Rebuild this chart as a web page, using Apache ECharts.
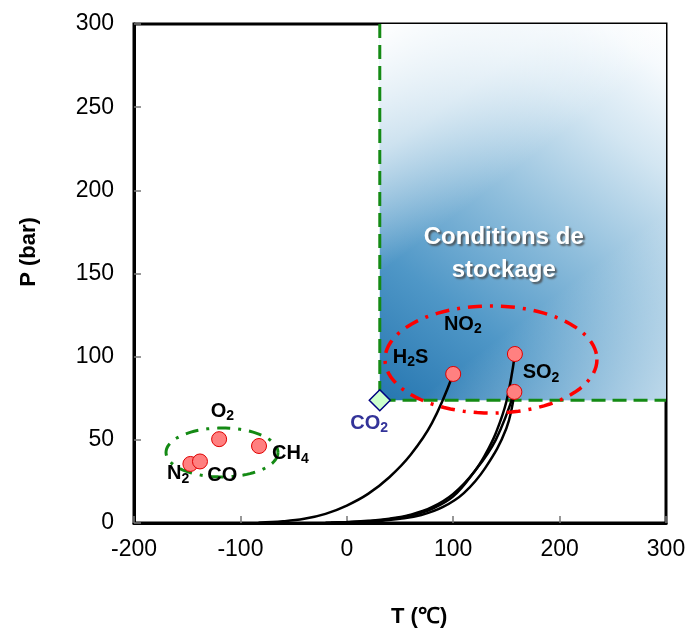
<!DOCTYPE html>
<html>
<head>
<meta charset="utf-8">
<script src="https://cdn.jsdelivr.net/npm/echarts@6/dist/echarts.min.js"></script>
<style>html,body{margin:0;padding:0;background:#fff;}#c{width:698px;height:632px;}</style>
</head>
<body>
<div id="c"></div>
<script>
// ---- data ----
const gasNames = ['N2', 'CO', 'O2', 'CH4', 'H2S', 'SO2', 'NO2'];
const gasT = [-147, -138, -120, -82.5, 100, 157.5, 158];
const gasP = [35.5, 37, 50.4, 46.3, 89.6, 78.8, 101.6];
const co2Point = [31, 73.8];

const h2sCurveT = [-83, -60, -40, -20, 0, 20, 40, 60, 80, 100];
const h2sCurveP = [0.2, 1, 2.5, 5.5, 10.5, 17.5, 27.5, 41, 60, 89.6];
const no2CurveT = [-15, 0, 20, 40, 60, 80, 100, 120, 130, 140, 150, 158];
const no2CurveP = [0.1, 0.4, 1, 2.3, 4.5, 8.5, 16, 31, 41, 54, 73, 101.6];
const so2CurveT = [-20, 0, 20, 40, 60, 80, 100, 120, 140, 157.5];
const so2CurveP = [0.1, 0.6, 1.3, 2.6, 5, 9.5, 17.5, 31, 50, 78.8];
const so2bCurveT = [-10, 10, 30, 50, 70, 90, 110, 130, 150, 157.5];
const so2bCurveP = [0.1, 0.5, 1.2, 2.5, 4.8, 9.5, 18, 33, 57, 78.8];

// storage region bounds [Tmin, Pmin, Tmax, Pmax]
const storageRegion = [31, 73.8, 300, 300];
// ellipses [centerT, centerP, radiusT, radiusP]
const greenEllipse = [-117.3, 42.4, 52.6, 14.7];
const redEllipse = [135.5, 98.3, 99.6, 32.2];

// text labels
const labelNames = ['NO2', 'H2S', 'SO2', 'CO2', 'O2', 'CH4', 'N2', 'CO'];
const labelT = [109, 60, 182.5, 21, -117, -53, -158.6, -117];
const labelP = [119, 99, 89.6, 59.5, 66.7, 41, 28.9, 27.7];
const labelColors = ['#000', '#000', '#000', '#333399', '#000', '#000', '#000', '#000'];

const xMin = -200, xMax = 300, xStep = 100;
const yMin = 0, yMax = 300, yStep = 50;

// ---- chart ----
const FONT = '"Liberation Sans", Arial, sans-serif';
const chart = echarts.init(document.getElementById('c'));

function zip(a, b) { return a.map((v, i) => [v, b[i]]); }
function curve(t, p) {
  return { type: 'line', data: zip(t, p), smooth: 0.4, symbol: 'none', z: 4,
    lineStyle: { color: '#000', width: 2.5 }, silent: true };
}
function ellipseSeries(e, color, dash, width) {
  return {
    type: 'custom', z: 5, silent: true, data: [e],
    renderItem: function (params, api) {
      const c = api.coord([api.value(0), api.value(1)]);
      const s = api.size([api.value(2), api.value(3)]);
      const pts = [];
      for (let i = 0; i <= 96; i++) {
        const a = i / 96 * Math.PI * 2;
        pts.push([c[0] + s[0] * Math.cos(a), c[1] + s[1] * Math.sin(a)]);
      }
      return { type: 'polyline', shape: { points: pts },
        style: { stroke: color, lineWidth: width, lineDash: dash, fill: null } };
    }
  };
}

function subLabel(n) {
  const head = n.replace(/\d.*$/, '');
  const digit = (n.match(/\d/) || [''])[0];
  const tail = digit ? n.slice(n.indexOf(digit) + 1) : '';
  let s = '{b|' + head + '}';
  if (digit) s += '{s|' + digit + '}';
  if (tail) s += '{b|' + tail + '}';
  return s;
}
function richFor(color) {
  return {
    b: { fontSize: 20, fontWeight: 'bold', fontFamily: FONT, color: color, lineHeight: 22, verticalAlign: 'top' },
    s: { fontSize: 14, fontWeight: 'bold', fontFamily: FONT, color: color, lineHeight: 22, verticalAlign: 'bottom', padding: [11, 0, 0, 0] }
  };
}

const labelData = labelNames.map((n, i) => ({
  value: [labelT[i], labelP[i]], name: n,
  label: { color: labelColors[i], rich: richFor(labelColors[i]) }
}));

const option = {
  animation: false,
  backgroundColor: '#fff',
  grid: { left: 134, top: 24, width: 532, height: 499, show: true,
    borderColor: '#000', borderWidth: 3, backgroundColor: 'transparent' },
  xAxis: {
    type: 'value', min: xMin, max: xMax, interval: xStep,
    axisLine: { show: true, onZero: false, lineStyle: { color: '#000', width: 3 } },
    axisTick: { show: true, inside: true, length: 7, lineStyle: { color: '#777', width: 1.5 } },
    axisLabel: { color: '#000', fontSize: 23, fontFamily: FONT, margin: 15 },
    splitLine: { show: false }
  },
  yAxis: {
    type: 'value', min: yMin, max: yMax, interval: yStep,
    axisLine: { show: true, onZero: false, lineStyle: { color: '#000', width: 3 } },
    axisTick: { show: true, inside: true, length: 7, lineStyle: { color: '#777', width: 1.5 } },
    axisLabel: { color: '#000', fontSize: 23, fontFamily: FONT, margin: 20 },
    splitLine: { show: false }
  },
  graphic: [
    { type: 'text', left: 391, top: 606, style: { text: 'T (℃)', fill: '#000',
      font: 'bold 22px ' + FONT } },
    { type: 'text', x: 29, y: 252, rotation: Math.PI / 2, style: { text: 'P (bar)', fill: '#000',
      font: 'bold 22px ' + FONT, align: 'center', verticalAlign: 'middle' } }
  ],
  series: [
    {
      type: 'custom', z: 1, silent: true, data: [storageRegion],
      renderItem: function (params, api) {
        const a = api.coord([api.value(0), api.value(3)]);
        const b = api.coord([api.value(2), api.value(1)]);
        const shape = { x: a[0], y: a[1], width: b[0] - a[0], height: b[1] - a[1] };
        return { type: 'group', children: [
          { type: 'rect', shape: shape,
            style: { fill: new echarts.graphic.LinearGradient(0, 1, 1, 0, [
              { offset: 0, color: '#2676b0' },
              { offset: 0.25, color: '#4f97c7' },
              { offset: 0.5, color: '#8fbedc' },
              { offset: 0.75, color: '#d3e6f2' },
              { offset: 0.92, color: '#f6fafd' },
              { offset: 1, color: '#ffffff' }
            ]) } },
          { type: 'rect', shape: shape,
            style: { fill: new echarts.graphic.LinearGradient(0, 0, 1, 1, [
              { offset: 0, color: 'rgba(255,255,255,1)' },
              { offset: 0.22, color: 'rgba(255,255,255,0.6)' },
              { offset: 0.42, color: 'rgba(255,255,255,0)' },
              { offset: 0.68, color: 'rgba(255,255,255,0)' },
              { offset: 1, color: 'rgba(255,255,255,0.55)' }
            ]) } }
        ] };
      }
    },
    {
      type: 'custom', z: 2, silent: true, data: [storageRegion],
      renderItem: function (params, api) {
        const c = api.coord([api.value(0), (api.value(1) + api.value(3)) / 2]);
        return { type: 'text', x: c[0] + 124, y: api.coord([0, 162])[1],
          style: { text: 'Conditions de\nstockage', fill: '#fff', align: 'center', verticalAlign: 'middle',
            font: 'bold 24px ' + FONT, lineHeight: 33,
            textShadowColor: 'rgba(70,70,70,0.85)', textShadowOffsetX: 2, textShadowOffsetY: 2, textShadowBlur: 2 } };
      }
    },
    {
      type: 'line', z: 3, silent: true, symbol: 'none',
      data: [[storageRegion[0], storageRegion[3]], [storageRegion[0], storageRegion[1]], [storageRegion[2], storageRegion[1]]],
      lineStyle: { color: '#148a14', width: 3, type: [14, 7] }
    },
    curve(h2sCurveT, h2sCurveP),
    curve(no2CurveT, no2CurveP),
    curve(so2CurveT, so2CurveP),
    curve(so2bCurveT, so2bCurveP),
    ellipseSeries(greenEllipse, '#148a14', [13, 8, 3, 8], 3),
    ellipseSeries(redEllipse, '#ff0000', [14, 8, 3, 8], 3.5),
    {
      type: 'scatter', z: 6, silent: true, data: zip(gasT, gasP), symbol: 'circle', symbolSize: 15,
      itemStyle: { color: '#ff8080', borderColor: '#e00000', borderWidth: 1, opacity: 1 }
    },
    {
      type: 'scatter', z: 6, silent: true, data: [co2Point], symbol: 'diamond', symbolSize: [21, 21],
      itemStyle: { color: '#ccffcc', borderColor: '#000080', borderWidth: 1.5, opacity: 1 }
    },
    {
      type: 'scatter', z: 7, silent: true, data: labelData, symbolSize: 0,
      itemStyle: { color: '#000', opacity: 1 },
      label: { show: true, position: 'inside', formatter: p => subLabel(p.name) }
    }
  ]
};
chart.setOption(option);
</script>
</body>
</html>
